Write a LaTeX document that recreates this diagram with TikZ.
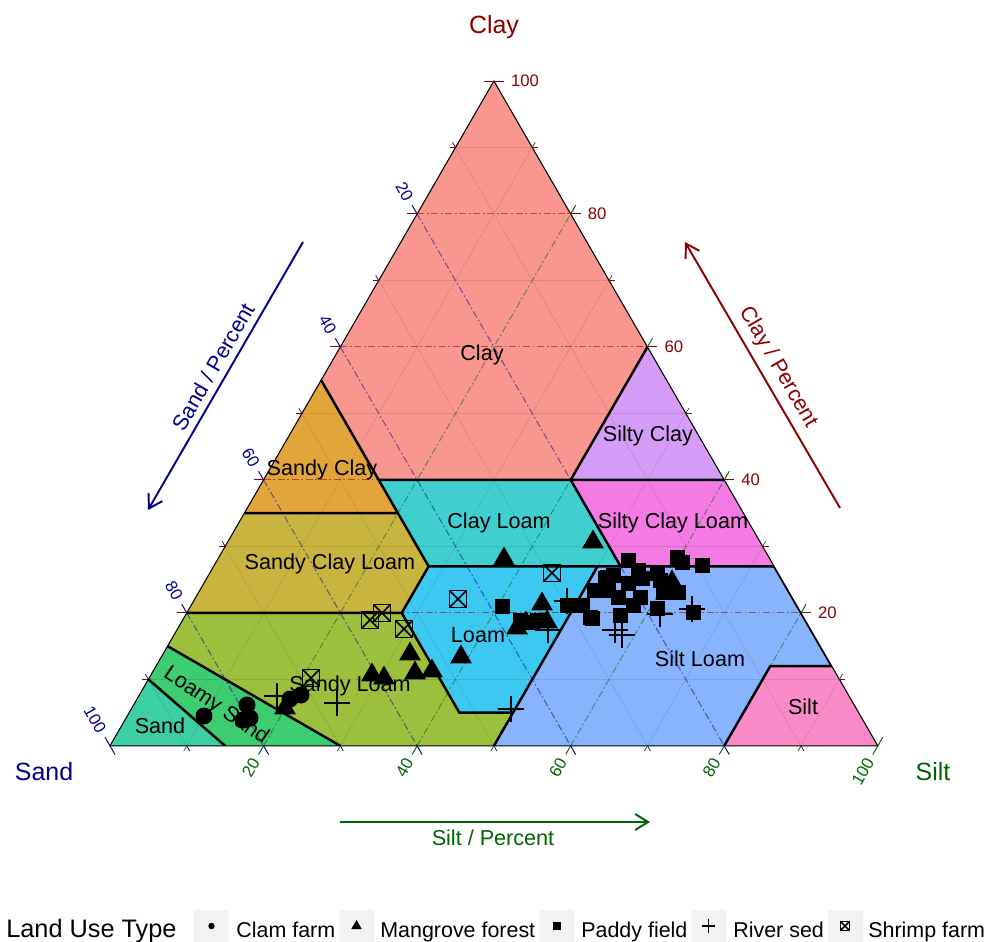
\documentclass[tikz,border=0pt]{standalone}
\usepackage{fontspec}
\setmainfont{Liberation Sans}
\usetikzlibrary{arrows.meta,shapes.geometric,shapes.misc}
\definecolor{clayaxis}{HTML}{8B0000}
\definecolor{sandaxis}{HTML}{00008B}
\definecolor{siltaxis}{HTML}{006400}
\definecolor{fclay}{HTML}{F8968F}
\definecolor{fsandyclay}{HTML}{E2A53C}
\definecolor{fsiltyclay}{HTML}{D59CF8}
\definecolor{fsandyclayloam}{HTML}{C9B43F}
\definecolor{fclayloam}{HTML}{40CECE}
\definecolor{fsiltyclayloam}{HTML}{F47BE3}
\definecolor{floam}{HTML}{3DC8F1}
\definecolor{fsiltloam}{HTML}{88B3FD}
\definecolor{fsandyloam}{HTML}{9CBF3D}
\definecolor{fsilt}{HTML}{FB8AC8}
\definecolor{floamysand}{HTML}{3DCC6F}
\definecolor{fsand}{HTML}{3DCEA4}

\begin{document}
\begin{tikzpicture}[x=0.02cm, y=-0.02cm, line join=miter,
    region/.style={draw=black, line width=1.4pt},
    minorgrid/.style={draw=black, opacity=0.1, line width=0.4pt},
    claygrid/.style={draw=clayaxis, opacity=0.55, line width=0.55pt, dash pattern=on 4pt off 1.5pt on 1pt off 1.5pt},
    sandgrid/.style={claygrid, draw=sandaxis},
    siltgrid/.style={claygrid, draw=siltaxis},
    reglabel/.style={font=\fontsize{12.3}{14}\selectfont, inner sep=0pt},
    ticklabel/.style={font=\fontsize{9.5}{11}\selectfont, inner sep=1pt},
    vertexlabel/.style={font=\fontsize{14.2}{16}\selectfont, inner sep=0pt},
    axisarrow/.style={line width=1.1pt, -{Straight Barb[length=0.26cm, width=0.32cm]}},
    clam/.style={circle, fill=black, inner sep=0pt, minimum size=0.34cm},
    mangrove/.style={regular polygon, regular polygon sides=3, fill=black, inner sep=0pt, minimum size=0.5cm},
    paddy/.style={rectangle, fill=black, inner sep=0pt, minimum size=0.3cm},
    river/.style={cross out, draw=black, line width=0.8pt, inner sep=0pt, minimum size=0.34cm, rotate=45},
    shrimp/.style={rectangle, draw=black, line width=0.85pt, inner sep=0pt, minimum size=0.34cm,
        path picture={\draw[line width=0.85pt] (path picture bounding box.north west) -- (path picture bounding box.south east)
            (path picture bounding box.north east) -- (path picture bounding box.south west);}},
    keybox/.style={fill=black!5, inner sep=0pt, minimum width=0.7cm, minimum height=0.64cm},
    legtext/.style={font=\fontsize{12.2}{14}\selectfont, anchor=base west, inner sep=0pt}]
    \useasboundingbox (0,0) rectangle (990,942);

    % ternary frame: (silt, clay) in percent
    \begin{scope}[shift={(2.2cm,-14.92cm)}, x={(0.1536cm,0cm)}, y={(0.0768cm,0.133cm)}]
        \fill[fclay] (0,100) -- (0,55) -- (15,40) -- (40,40) -- (40,60) -- cycle;
        \fill[fsiltyclay] (40,60) -- (40,40) -- (60,40) -- cycle;
        \fill[fsandyclay] (0,55) -- (0,35) -- (20,35) -- (15,40) -- cycle;
        \fill[fclayloam] (15,40) -- (40,40) -- (53,27) -- (28,27) -- (20,35) -- cycle;
        \fill[fsiltyclayloam] (40,40) -- (60,40) -- (73,27) -- (53,27) -- cycle;
        \fill[fsandyclayloam] (0,35) -- (20,35) -- (28,27) -- (28,20) -- (0,20) -- cycle;
        \fill[floam] (28,27) -- (50,27) -- (50,5) -- (43,5) -- (28,20) -- cycle;
        \fill[fsiltloam] (50,27) -- (73,27) -- (88,12) -- (80,12) -- (80,0) -- (50,0) -- cycle;
        \fill[fsilt] (80,12) -- (88,12) -- (100,0) -- (80,0) -- cycle;
        \fill[fsandyloam] (0,20) -- (28,20) -- (43,5) -- (50,5) -- (50,0) -- (30,0) -- (0,15) -- cycle;
        \fill[floamysand] (0,15) -- (30,0) -- (15,0) -- (0,10) -- cycle;
        \fill[fsand] (0,10) -- (15,0) -- (0,0) -- cycle;

        % grid
        \foreach \v in {10,30,50,70,90} {
            \draw[minorgrid] (0,\v) -- ({100-\v},\v);
            \draw[minorgrid] (0,{100-\v}) -- ({100-\v},0);
            \draw[minorgrid] (\v,0) -- (\v,{100-\v});
        }
        \foreach \v in {20,40,60,80} {
            \draw[claygrid] (0,\v) -- ({100-\v},\v);
            \draw[sandgrid] (0,{100-\v}) -- ({100-\v},0);
            \draw[siltgrid] (\v,0) -- (\v,{100-\v});
        }

        % class borders
        \begin{scope}
            \clip (0,0) -- (100,0) -- (0,100) -- cycle;
            \draw[region] (0,55) -- (15,40) -- (40,40) -- (40,60)
                (40,40) -- (60,40)  (0,35) -- (20,35)  (15,40) -- (28,27)
                (28,27) -- (73,27)  (40,40) -- (53,27)
                (28,27) -- (28,20) -- (43,5) -- (50,5)  (0,20) -- (28,20)
                (50,27) -- (50,0)  (73,27) -- (88,12) -- (80,12) -- (80,0)
                (0,15) -- (30,0)  (0,10) -- (15,0);
        \end{scope}
        \draw[line width=0.6pt] (0,0) -- (100,0) -- (0,100) -- cycle;

        % ticks
        \foreach \v in {20,40,...,100} {
            \draw[clayaxis, line width=0.55pt] (0,\v) -- ++(-0.2cm,0)  ({100-\v},\v) -- ++(0.2cm,0);
            \draw[sandaxis, line width=0.55pt] (0,{100-\v}) -- ++(120:0.2cm)  ({100-\v},0) -- ++(-60:0.2cm);
            \draw[siltaxis, line width=0.55pt] (\v,0) -- ++(240:0.2cm)  (\v,{100-\v}) -- ++(60:0.2cm);
        }
        \foreach \v in {10,30,...,90} {
            \draw[clayaxis, line width=0.4pt] (0,\v) -- ++(-0.12cm,0)  ({100-\v},\v) -- ++(0.12cm,0);
            \draw[sandaxis, line width=0.4pt] (0,{100-\v}) -- ++(120:0.12cm)  ({100-\v},0) -- ++(-60:0.12cm);
            \draw[siltaxis, line width=0.4pt] (\v,0) -- ++(240:0.12cm)  (\v,{100-\v}) -- ++(60:0.12cm);
        }
        \foreach \v in {20,40,...,100} {
            \path ({100-\v},\v) ++(0.3cm,0) node[ticklabel, text=clayaxis, anchor=west] (claytick\v) {\v};
            \path (0,{100-\v}) ++(120:0.28cm) node[ticklabel, text=sandaxis, rotate=-60, anchor=east] (sandtick\v) {\v};
            \path (\v,0) ++(240:0.28cm) node[ticklabel, text=siltaxis, rotate=60, anchor=east] (silttick\v) {\v};
        }
    \end{scope}

    % class names
    \node[reglabel] (lclay) at (482,355) {Clay};
    \node[reglabel] (lsiltyclay) at (648,436) {Silty Clay};
    \node[reglabel] (lsandyclay) at (322,470) {Sandy Clay};
    \node[reglabel] (lclayloam) at (499,523) {Clay Loam};
    \node[reglabel] (lsiltyclayloam) at (673,523) {Silty Clay Loam};
    \node[reglabel] (lsandyclayloam) at (330,564) {Sandy Clay Loam};
    \node[reglabel] (lloam) at (478,635) {Loam};
    \node[reglabel] (lsiltloam) at (700,659) {Silt Loam};
    \node[reglabel] (lsilt) at (803,707) {Silt};
    \node[reglabel] (lsandyloam) at (350,686) {Sandy Loam};
    \node[reglabel, rotate=-34] (lloamysand) at (216,706) {Loamy Sand};
    \node[reglabel] (lsand) at (160,726) {Sand};

    % vertex names and axis arrows
    \node[vertexlabel, text=clayaxis] (nclay) at (494,27) {Clay};
    \node[vertexlabel, text=sandaxis] (nsand) at (44,772) {Sand};
    \node[vertexlabel, text=siltaxis] (nsilt) at (933,772) {Silt};
    \coordinate (sandA) at (303,242);
    \coordinate (sandB) at (148,510);
    \coordinate (clayA) at (840,508);
    \coordinate (clayB) at (685,242);
    \coordinate (siltA) at (340,822);
    \coordinate (siltB) at (650,822);
    \draw[axisarrow, sandaxis] (sandA) -- (sandB);
    \draw[axisarrow, clayaxis] (clayA) -- (clayB);
    \draw[axisarrow, siltaxis] (siltA) -- (siltB);
    \node[reglabel, text=sandaxis, rotate=60] (asand) at (213,367) {Sand / Percent};
    \node[reglabel, text=clayaxis, rotate=-60] (aclay) at (778,367) {Clay / Percent};
    \node[reglabel, text=siltaxis] (asilt) at (493,838) {Silt / Percent};

    % clam farm
    \node[clam] (clam1) at (204,716) {};
    \node[clam] (clam2) at (247,705) {};
    \node[clam] (clam3) at (243,720) {};
    \node[clam] (clam4) at (250,718) {};
    \node[clam] (clam5) at (290,699) {};
    \node[clam] (clam6) at (301,695) {};

    % mangrove forest
    \node[mangrove] (mang1) at (285,708) {};
    \node[mangrove] (mang2) at (372,675) {};
    \node[mangrove] (mang3) at (384,678) {};
    \node[mangrove] (mang4) at (410,654) {};
    \node[mangrove] (mang5) at (415,673) {};
    \node[mangrove] (mang6) at (432,671) {};
    \node[mangrove] (mang7) at (461,657) {};
    \node[mangrove] (mang8) at (504,559) {};
    \node[mangrove] (mang9) at (593,542) {};
    \node[mangrove] (mang10) at (542,604) {};
    \node[mangrove] (mang11) at (517,628) {};
    \node[mangrove] (mang12) at (526,623) {};
    \node[mangrove] (mang13) at (547,622) {};
    \node[mangrove] (mang14) at (672,582) {};

    % paddy field
    \node[paddy] (pad1) at (502,606) {};
    \node[paddy] (pad2) at (520,620) {};
    \node[paddy] (pad3) at (532,622) {};
    \node[paddy] (pad4) at (537,620) {};
    \node[paddy] (pad5) at (567,605) {};
    \node[paddy] (pad6) at (582,605) {};
    \node[paddy] (pad7) at (590,617) {};
    \node[paddy] (pad8) at (594,590) {};
    \node[paddy] (pad9) at (605,578) {};
    \node[paddy] (pad10) at (628,560) {};
    \node[paddy] (pad11) at (638,570) {};
    \node[paddy] (pad12) at (607,577) {};
    \node[paddy] (pad13) at (613,575) {};
    \node[paddy] (pad14) at (628,583) {};
    \node[paddy] (pad15) at (608,590) {};
    \node[paddy] (pad16) at (618,597) {};
    \node[paddy] (pad17) at (640,597) {};
    \node[paddy] (pad18) at (633,605) {};
    \node[paddy] (pad19) at (620,615) {};
    \node[paddy] (pad20) at (592,618) {};
    \node[paddy] (pad21) at (642,578) {};
    \node[paddy] (pad22) at (657,573) {};
    \node[paddy] (pad23) at (660,580) {};
    \node[paddy] (pad24) at (670,587) {};
    \node[paddy] (pad25) at (678,592) {};
    \node[paddy] (pad26) at (663,592) {};
    \node[paddy] (pad27) at (677,557) {};
    \node[paddy] (pad28) at (682,562) {};
    \node[paddy] (pad29) at (702,565) {};
    \node[paddy] (pad30) at (657,608) {};
    \node[paddy] (pad31) at (693,612) {};

    % river sed
    \node[river] (riv1) at (277,696) {};
    \node[river] (riv2) at (337,703) {};
    \node[river] (riv3) at (511,709) {};
    \node[river] (riv4) at (567,601) {};
    \node[river] (riv5) at (548,630) {};
    \node[river] (riv6) at (615,630) {};
    \node[river] (riv7) at (622,635) {};
    \node[river] (riv8) at (660,614) {};
    \node[river] (riv9) at (692,609) {};

    % shrimp farm
    \node[shrimp] (shr1) at (311,678) {};
    \node[shrimp] (shr2) at (370,620) {};
    \node[shrimp] (shr3) at (382,613) {};
    \node[shrimp] (shr4) at (404,629) {};
    \node[shrimp] (shr5) at (458,599) {};
    \node[shrimp] (shr6) at (552,573) {};

    % legend
    \node[font=\fontsize{14.4}{16}\selectfont, anchor=base west, inner sep=0pt] (legtitle) at (6,937) {Land Use Type};
    \node[keybox] (key1) at (211.5,926) {};
    \node[clam, minimum size=0.13cm] (keyclam) at (key1) {};
    \node[legtext] (leg1) at (236,937) {Clam farm};
    \node[keybox] (key2) at (356.5,926) {};
    \node[mangrove, minimum size=0.24cm] (keymang) at (key2) {};
    \node[legtext] (leg2) at (380,937) {Mangrove forest};
    \node[keybox] (key3) at (556.5,926) {};
    \node[paddy, minimum size=0.16cm] (keypad) at (key3) {};
    \node[legtext] (leg3) at (581,937) {Paddy field};
    \node[keybox] (key4) at (708.5,926) {};
    \node[river, minimum size=0.17cm, line width=0.6pt] (keyriv) at (key4) {};
    \node[legtext] (leg4) at (733,937) {River sed};
    \node[keybox] (key5) at (845,926) {};
    \node[shrimp, minimum size=0.18cm, line width=0.6pt] (keyshr) at (key5) {};
    \node[legtext] (leg5) at (868,937) {Shrimp farm};
\end{tikzpicture}
\end{document}
